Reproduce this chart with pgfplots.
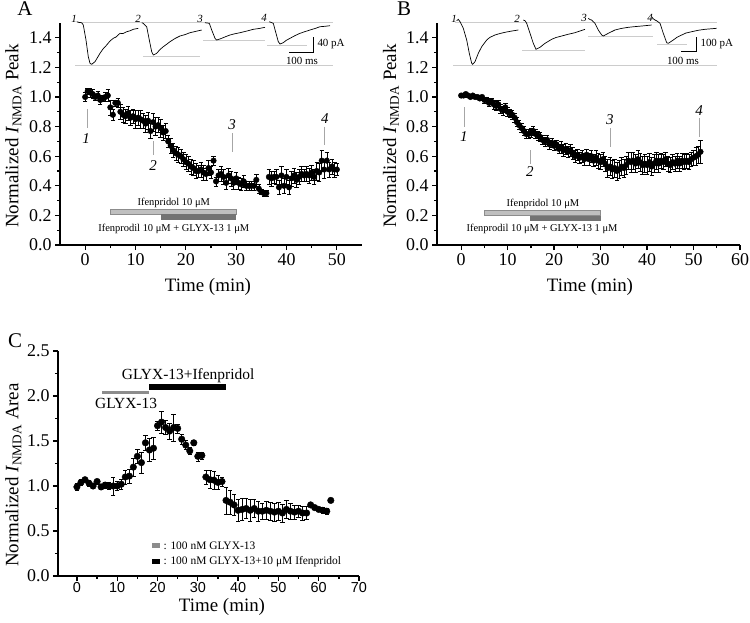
\documentclass[border=0pt]{standalone}
\usepackage{fontspec}
\setmainfont{Liberation Serif}
\setsansfont{Liberation Sans}
\usepackage{pgfplots}
\pgfplotsset{compat=1.18}
\usepackage{pgfplotstable}
\newcommand\fs[1]{\fontsize{#1}{#1}\selectfont}

\pgfplotstableread{
t v e
0 1.00 0.03
0.5 1.04 0.02
1.0 1.03 0.03
1.5 1.02 0.03
2.0 1.00 0.02
2.5 1.01 0.03
3.0 0.98 0.03
3.5 0.99 0.02
4.0 1.00 0.03
4.5 1.01 0.04
5.0 0.93 0.05
5.5 0.88 0.04
6.0 0.96 0.02
6.5 0.96 0.03
7.0 0.90 0.05
7.5 0.88 0.05
8.0 0.87 0.05
8.5 0.89 0.05
9.0 0.86 0.05
9.5 0.87 0.05
10.0 0.85 0.06
10.5 0.86 0.05
11.0 0.85 0.06
11.5 0.84 0.05
12.0 0.82 0.06
12.5 0.84 0.06
13.0 0.77 0.05
13.5 0.83 0.06
14.0 0.80 0.06
14.5 0.81 0.05
15.0 0.79 0.06
15.5 0.76 0.05
16.0 0.77 0.05
16.5 0.70 0.04
17.0 0.67 0.05
17.5 0.64 0.05
18.0 0.62 0.05
18.5 0.61 0.05
19.0 0.60 0.05
19.5 0.58 0.05
20.0 0.56 0.05
20.5 0.55 0.05
21.0 0.53 0.05
21.5 0.52 0.05
22.0 0.50 0.05
22.5 0.50 0.04
23.0 0.51 0.05
23.5 0.49 0.05
24.0 0.48 0.04
24.5 0.52 0.05
25.0 0.49 0.04
25.5 0.57 0.03
26.0 0.43 0.03
26.5 0.47 0.04
27.0 0.48 0.05
27.5 0.46 0.05
28.0 0.42 0.04
28.5 0.47 0.05
29.0 0.45 0.05
29.5 0.42 0.04
30.0 0.45 0.04
30.5 0.42 0.04
31.0 0.41 0.04
31.5 0.43 0.04
32.0 0.40 0.03
32.5 0.40 0.03
33.0 0.40 0.03
33.5 0.40 0.03
34.0 0.44 0.04
34.5 0.38 0.03
35.0 0.36 0.02
35.5 0.35 0.02
36.0 0.35 0.02
36.5 0.46 0.05
37.0 0.45 0.05
37.5 0.46 0.04
38.0 0.46 0.05
38.5 0.39 0.05
39.0 0.47 0.06
39.5 0.40 0.05
40.0 0.46 0.05
40.5 0.39 0.05
41.0 0.45 0.05
41.5 0.47 0.05
42.0 0.44 0.05
42.5 0.46 0.05
43.0 0.48 0.05
43.5 0.47 0.04
44.0 0.48 0.05
44.5 0.47 0.05
45.0 0.49 0.05
45.5 0.46 0.05
46.0 0.50 0.06
46.5 0.49 0.06
47.0 0.57 0.07
47.5 0.51 0.06
48.0 0.57 0.06
48.5 0.51 0.05
49.0 0.53 0.05
49.5 0.51 0.05
50.0 0.51 0.04
}\dataA

\pgfplotstableread{
t v e
0 1.01 0.01
0.5 1.01 0.01
1.0 1.02 0.01
1.5 1.01 0.01
2.0 1.00 0.01
2.5 1.01 0.01
3.0 1.00 0.01
3.5 1.00 0.01
4.0 0.99 0.01
4.5 1.00 0.01
5.0 0.98 0.02
5.5 0.98 0.02
6.0 0.96 0.02
6.5 0.97 0.02
7.0 0.95 0.03
7.5 0.94 0.03
8.0 0.95 0.03
8.5 0.92 0.03
9.0 0.91 0.03
9.5 0.93 0.03
10.0 0.90 0.03
10.5 0.89 0.03
11.0 0.88 0.03
11.5 0.86 0.03
12.0 0.83 0.03
12.5 0.81 0.03
13.0 0.79 0.03
13.5 0.77 0.03
14.0 0.75 0.03
14.5 0.75 0.03
15.0 0.76 0.03
15.5 0.77 0.03
16.0 0.75 0.03
16.5 0.74 0.03
17.0 0.73 0.03
17.5 0.71 0.03
18.0 0.70 0.03
18.5 0.71 0.03
19.0 0.68 0.03
19.5 0.69 0.03
20.0 0.67 0.03
20.5 0.68 0.03
21.0 0.65 0.03
21.5 0.66 0.04
22.0 0.64 0.04
22.5 0.65 0.04
23.0 0.63 0.04
23.5 0.64 0.04
24.0 0.62 0.04
24.5 0.60 0.04
25.0 0.61 0.04
25.5 0.59 0.04
26.0 0.60 0.04
26.5 0.58 0.04
27.0 0.61 0.04
27.5 0.58 0.04
28.0 0.60 0.04
28.5 0.57 0.04
29.0 0.59 0.05
29.5 0.57 0.05
30.0 0.56 0.05
30.5 0.58 0.05
31.0 0.55 0.05
31.5 0.52 0.06
32.0 0.53 0.06
32.5 0.51 0.06
33.0 0.52 0.06
33.5 0.50 0.06
34.0 0.51 0.06
34.5 0.53 0.06
35.0 0.52 0.06
35.5 0.54 0.06
36.0 0.57 0.06
36.5 0.56 0.07
37.0 0.57 0.06
37.5 0.55 0.06
38.0 0.58 0.06
38.5 0.56 0.06
39.0 0.54 0.06
39.5 0.55 0.06
40.0 0.54 0.06
40.5 0.56 0.06
41.0 0.53 0.06
41.5 0.55 0.06
42.0 0.57 0.06
42.5 0.55 0.06
43.0 0.57 0.05
43.5 0.56 0.05
44.0 0.58 0.05
44.5 0.55 0.05
45.0 0.54 0.05
45.5 0.56 0.05
46.0 0.55 0.05
46.5 0.57 0.05
47.0 0.55 0.05
47.5 0.57 0.05
48.0 0.56 0.05
48.5 0.57 0.05
49.0 0.56 0.05
49.5 0.58 0.05
50.0 0.59 0.05
50.5 0.60 0.06
51.0 0.61 0.06
51.5 0.63 0.08
}\dataB

\pgfplotstableread{
t v e
0 0.99 0.04
1 1.04 0.03
2 1.07 0.02
3 1.03 0.03
4 1.00 0.03
5 1.05 0.03
6 0.99 0.03
7 1.01 0.03
8 1.00 0.04
9 1.00 0.10
10 1.00 0.05
11 1.02 0.06
12 1.10 0.08
13 1.11 0.08
14 1.21 0.10
15 1.33 0.08
16 1.26 0.12
17 1.48 0.08
18 1.40 0.13
19 1.42 0.12
20 1.67 0.05
21 1.71 0.12
22 1.65 0.08
23 1.61 0.09
24 1.65 0.15
25 1.64 0.05
26 1.52 0.06
27 1.455 0.05
28 1.39 0.04
29 1.48 0.03
30 1.33 0.05
31 1.34 0.04
32 1.10 0.08
33 1.07 0.10
34 1.065 0.10
35 1.04 0.08
36 1.05 0.05
37 0.84 0.15
38 0.82 0.13
39 0.79 0.12
40 0.73 0.12
41 0.74 0.12
42 0.75 0.11
43 0.73 0.12
44 0.75 0.10
45 0.72 0.11
46 0.72 0.09
47 0.73 0.10
48 0.72 0.10
49 0.71 0.10
50 0.72 0.10
51 0.70 0.10
52 0.74 0.10
53 0.72 0.09
54 0.71 0.08
55 0.72 0.07
56 0.70 0.08
57 0.70 0.07
58 0.79 0.02
59 0.76 0.02
60 0.74 0.02
61 0.73 0.03
62 0.72 0.03
63 0.84 0.02
}\dataC

\pgfplotsset{
  panel/.style={
    scale only axis, anchor=south west, clip=false,
    axis lines=left, x axis line style={-}, y axis line style={-},
    axis line style={line width=1.8bp},
    tick align=outside, major tick length=5bp, minor tick length=3bp,
    every tick/.style={black, line width=1.3bp},
    minor x tick num=1, minor y tick num=1,
    tick label style={font=\fs{18}},
    /pgf/number format/assume math mode=true,
    yticklabel style={/pgf/number format/fixed, /pgf/number format/fixed zerofill, /pgf/number format/precision=1},
    xticklabel style={/pgf/number format/fixed, /pgf/number format/precision=0},
  },
  pts/.style={only marks, mark=*, mark size=#1, mark options={fill=black, draw=black},
    error bars/.cd, y dir=both, y explicit,
    error bar style={line width=0.5bp, black},
    error mark=-, error mark options={rotate=90, mark size=2.2bp, line width=0.5bp, black}},
}

\begin{document}
\begin{tikzpicture}
\path[use as bounding box] (0,0) rectangle (750bp,-623bp);

% ---------------- Panel A ----------------
\begin{axis}[panel, at={(60bp,-245bp)}, width=302bp, height=222bp,
  xmin=-5, xmax=55, ymin=0, ymax=1.5,
  xtick={0,10,...,50}, ytick={0,0.2,...,1.41}]
\addplot+[pts=2.8bp] table[x=t, y=v, y error=e] {\dataA};
\fill[black!25] (axis cs:5,0.207) rectangle (axis cs:30,0.241);
\draw[black!45, line width=0.4bp] (axis cs:5,0.207) rectangle (axis cs:30,0.241);
\fill[black!55] (axis cs:15,0.169) rectangle (axis cs:30,0.207);
\node[font=\fs{10.5}] at (axis cs:17.6,0.286) {Ifenpridol 10 μM};
\node[font=\fs{10.5}] at (axis cs:17.6,0.108) {Ifenprodil 10 μM + GLYX-13 1 μM};
\draw[black!35, line width=0.6bp] (axis cs:0.45,0.92) -- (axis cs:0.45,0.79);
\node[font=\itshape\fs{15}] at (axis cs:0.2,0.72) {1};
\draw[black!35, line width=0.6bp] (axis cs:13.5,0.70) -- (axis cs:13.5,0.61);
\node[font=\itshape\fs{15}] at (axis cs:13.5,0.54) {2};
\draw[black!35, line width=0.6bp] (axis cs:29.2,0.755) -- (axis cs:29.2,0.63);
\node[font=\itshape\fs{15}] at (axis cs:29.2,0.81) {3};
\draw[black!35, line width=0.6bp] (axis cs:47.6,0.80) -- (axis cs:47.6,0.675);
\node[font=\itshape\fs{15}] at (axis cs:47.6,0.856) {4};
\end{axis}

% ---------------- Panel B ----------------
\begin{axis}[panel, at={(437bp,-245bp)}, width=303bp, height=222bp,
  xmin=-5.2, xmax=60, ymin=0, ymax=1.5,
  xtick={0,10,...,60}, ytick={0,0.2,...,1.41}]
\addplot+[pts=2.8bp] table[x=t, y=v, y error=e] {\dataB};
\fill[black!25] (axis cs:4.9,0.198) rectangle (axis cs:30,0.232);
\draw[black!45, line width=0.4bp] (axis cs:4.9,0.198) rectangle (axis cs:30,0.232);
\fill[black!55] (axis cs:14.9,0.160) rectangle (axis cs:30,0.198);
\node[font=\fs{10.5}] at (axis cs:17.6,0.28) {Ifenpridol 10 μM};
\node[font=\fs{10.5}] at (axis cs:17.4,0.106) {Ifenprodil 10 μM + GLYX-13 1 μM};
\draw[black!35, line width=0.6bp] (axis cs:0.7,0.93) -- (axis cs:0.7,0.795);
\node[font=\itshape\fs{15}] at (axis cs:0.6,0.73) {1};
\draw[black!35, line width=0.6bp] (axis cs:14.8,0.64) -- (axis cs:14.8,0.55);
\node[font=\itshape\fs{15}] at (axis cs:14.8,0.495) {2};
\draw[black!35, line width=0.6bp] (axis cs:32,0.79) -- (axis cs:32,0.66);
\node[font=\itshape\fs{15}] at (axis cs:32,0.845) {3};
\draw[black!35, line width=0.6bp] (axis cs:51.2,0.856) -- (axis cs:51.2,0.73);
\node[font=\itshape\fs{15}] at (axis cs:51.2,0.91) {4};
\end{axis}

% ---------------- Panel C ----------------
\begin{axis}[panel, at={(58bp,-576bp)}, width=301bp, height=225bp,
  xmin=-4.7, xmax=70, ymin=0, ymax=2.5,
  xtick={0,10,...,70}, ytick={0,0.5,...,2.51},
  xticklabel style={font=\sffamily\fs{14.5}, yshift=2bp}]
\addplot+[pts=3.3bp] table[x=t, y=v, y error=e] {\dataC};
\fill[black!45] (axis cs:6.3,2.02) rectangle (axis cs:17.9,2.06);
\fill[black] (axis cs:17.9,2.07) rectangle (axis cs:37.1,2.13);
\node[font=\fs{15.5}] at (axis cs:27.6,2.23) {GLYX-13+Ifenpridol};
\node[font=\fs{15.5}] at (axis cs:12.2,1.92) {GLYX-13};
\end{axis}

% ---------------- overlay (pixel coordinates) ----------------
\begin{axis}[scale only axis, hide axis, clip=false, anchor=north west, at={(0,0)},
  width=750bp, height=623bp, xmin=0, xmax=750, ymin=0, ymax=623, y dir=reverse]
% panel A traces
\draw[black!20, line width=0.5bp] (77,22.7) -- (333,22.7);
\draw[black!20, line width=0.5bp] (75,65) -- (333,65);
\draw[black!20, line width=0.5bp] (143,56) -- (200,56);
\draw[black!20, line width=0.5bp] (203,40) -- (265,40);
\draw[black!20, line width=0.5bp] (267,45) -- (307,45);
\addplot[black, line width=0.7bp] coordinates {(76.7,21.7)(79,22.4)(81.7,22.7)(83.3,25)(86,40)(88.3,56.7)(90,63.3)(91.7,64.3)(95,61.7)(100,53.3)(103,49)(106.7,45)(110,41)(113.3,38.3)(116,37)(120,33.3)(123,33.6)(126.7,31.7)(130,30.8)(133.3,29.3)(138.3,28.3)};
\addplot[black, line width=0.7bp] coordinates {(141.7,22.7)(143.3,23.3)(146.7,26.7)(149.3,40)(151.7,51.7)(153.3,55)(156.7,53.3)(160,49.5)(163.3,46.7)(167,44)(170,41.7)(175,38.5)(180,36)(185,34.6)(190,32.7)(196,31.3)(201.7,30)};
\addplot[black, line width=0.7bp] coordinates {(205,22.7)(209.3,23.3)(211.7,30)(215,38.3)(216.7,40)(221.7,38.3)(226,36.5)(230,35)(235,33.7)(240,32.7)(247,31)(253.3,29.3)(259,28.5)(265,27.3)};
\addplot[black, line width=0.7bp] coordinates {(269.3,21.7)(273.3,23.3)(276,33.3)(278.3,41.7)(280,44)(283.3,42.7)(286,40.5)(290,38.3)(295,35.6)(300,33.3)(305,31.6)(310,30)(315,28.5)(320,26.7)(325,26.3)(330,25.7)};
\draw[black, line width=0.8bp] (289,52) -- (313,52) -- (313,37);
\node[font=\fs{11}, anchor=west] at (314,44) {40 pA};
\node[font=\fs{11}] at (302,61) {100 ms};
\node[font=\itshape\fs{11}] at (74,19) {1};
\node[font=\itshape\fs{11}] at (138,19) {2};
\node[font=\itshape\fs{11}] at (200,19) {3};
\node[font=\itshape\fs{11}] at (264,18) {4};
% panel B traces
\draw[black!20, line width=0.5bp] (455,22.7) -- (717,22.7);
\draw[black!20, line width=0.5bp] (453,65) -- (717,65);
\draw[black!20, line width=0.5bp] (522,50) -- (585,50);
\draw[black!20, line width=0.5bp] (588,36) -- (653,36);
\draw[black!20, line width=0.5bp] (657,44) -- (687,44);
\addplot[black, line width=0.7bp] coordinates {(456.7,20.7)(458.3,19.3)(460,21.7)(463.3,28.3)(466.7,40)(469.3,53.3)(471.7,63.3)(472.7,64.3)(475,61.7)(478.3,53.3)(481.7,46.7)(486.7,40)(490,37.3)(495,35)(500,33.5)(505,32.3)(512,31)(518.3,30)};
\addplot[black, line width=0.7bp] coordinates {(523.3,20)(525,20.7)(526.7,23.3)(530,33.3)(533.3,43.3)(536,49.3)(540,47.3)(545,43.3)(551.7,39.3)(556,37.5)(561.7,36)(568,34.3)(575,32.7)(580,31)(585,29.3)};
\addplot[black, line width=0.7bp] coordinates {(588.3,18.3)(590,19.6)(591.7,20)(593,21.5)(595,23.3)(598.3,30)(601.7,35)(603.3,36)(608.3,33.3)(615,30)(621,28.5)(628.3,27.3)(635,26.6)(641.7,26)(651.7,25)};
\addplot[black, line width=0.7bp] coordinates {(651.7,16.7)(653,18.5)(655,20)(657,21)(660,23.3)(663.3,33.3)(666.7,42.7)(668.3,43.3)(673.3,40)(677,37.3)(681.7,35)(686,33)(691.7,31.7)(698,30.3)(705,29.3)(711,28.8)(716.7,28.3)};
\draw[black, line width=0.8bp] (681,51) -- (696,51) -- (696,37);
\node[font=\fs{11}, anchor=west] at (697,44) {100 pA};
\node[font=\fs{11}] at (683,61) {100 ms};
\node[font=\itshape\fs{11}] at (454,19) {1};
\node[font=\itshape\fs{11}] at (517,19) {2};
\node[font=\itshape\fs{11}] at (584,18) {3};
\node[font=\itshape\fs{11}] at (650,18) {4};
% axis labels
\node[font=\fs{19}] at (208,287) {Time (min)};
\node[font=\fs{19}] at (590,287) {Time (min)};
\node[font=\fs{19}] at (222,607) {Time (min)};
\node[font=\fs{19}, rotate=90, anchor=base] at (18.5,136) {Normalized \textit{I}\textsubscript{NMDA} Peak};
\node[font=\fs{19}, rotate=90, anchor=base] at (396,136) {Normalized \textit{I}\textsubscript{NMDA} Peak};
\node[font=\fs{19}, rotate=90, anchor=base] at (18.5,475) {Normalized \textit{I}\textsubscript{NMDA} Area};
% panel letters
\node[font=\fs{21}, anchor=base] at (25,15.5) {A};
\node[font=\fs{21}, anchor=base] at (404,15.5) {B};
\node[font=\fs{21}, anchor=base] at (15,347) {C};
% legend C
\fill[black!45] (152,543) rectangle (160,548);
\node[font=\fs{11.5}, anchor=west] at (160,545.5) {: 100 nM GLYX-13};
\fill[black] (152,559) rectangle (160,564);
\node[font=\fs{11.5}, anchor=west] at (160,561.5) {: 100 nM GLYX-13+10 μM Ifenpridol};
\end{axis}
\end{tikzpicture}
\end{document}
